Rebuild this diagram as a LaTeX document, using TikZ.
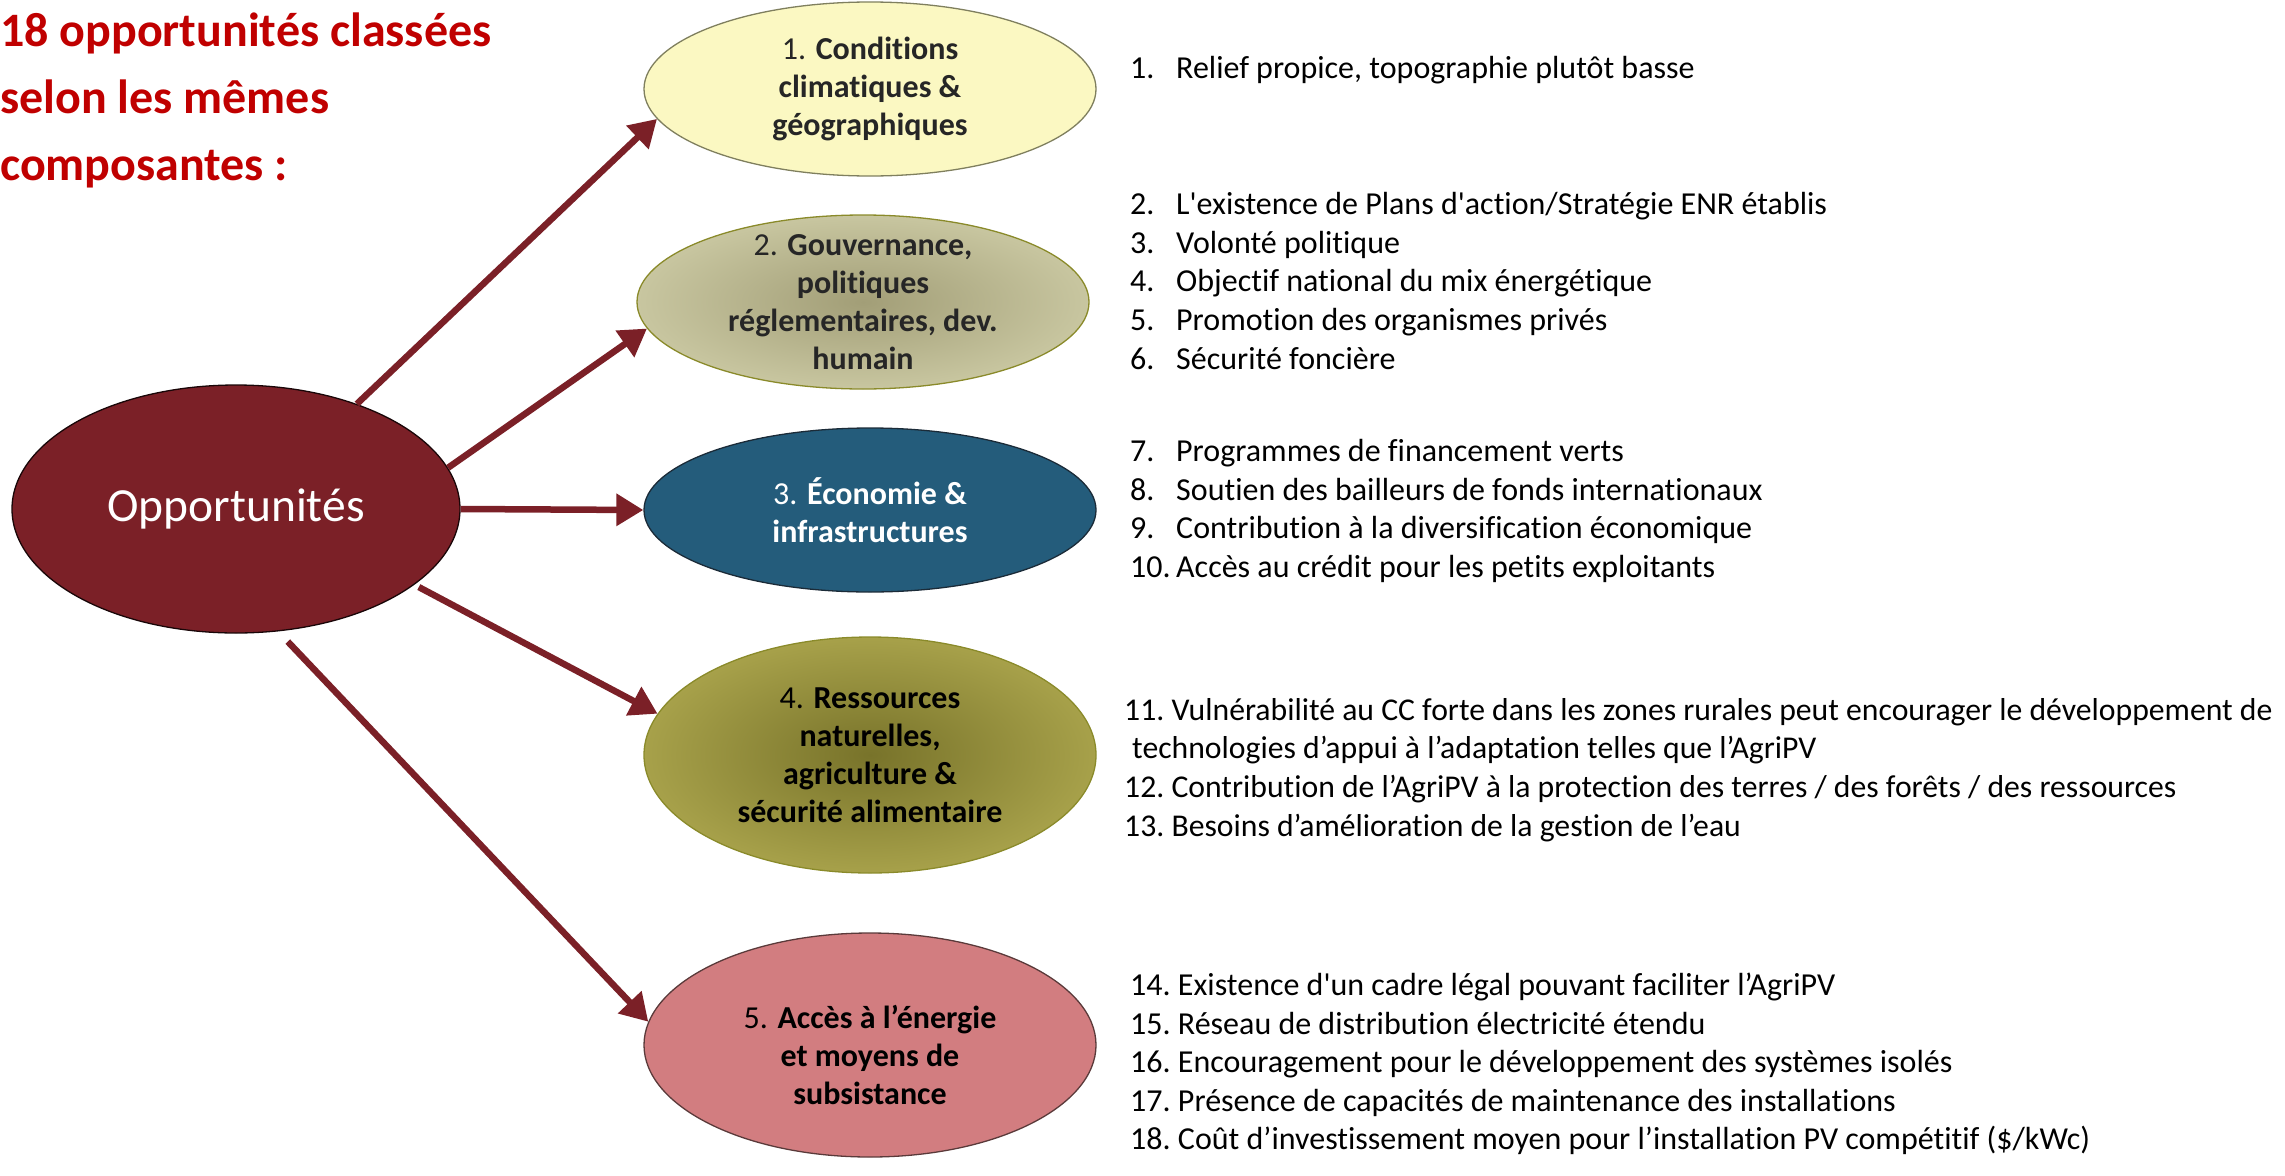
\documentclass[tikz,border=0pt]{standalone}
\usepackage{fontspec}
\setmainfont{Carlito}[Ligatures={TeXOff,CommonOff}]
\usetikzlibrary{shapes.geometric,arrows.meta}

\definecolor{oppred}{HTML}{7B2027}
\definecolor{titlered}{HTML}{C00000}
\definecolor{climfill}{HTML}{FBF8C2}
\definecolor{climdraw}{HTML}{7F7F5E}
\definecolor{govin}{HTML}{A29E77}
\definecolor{govout}{HTML}{C8C6A0}
\definecolor{olivedraw}{HTML}{8A8A2A}
\definecolor{ecofill}{HTML}{245C7B}
\definecolor{ecodraw}{HTML}{1B2B38}
\definecolor{resin}{HTML}{78732A}
\definecolor{resout}{HTML}{A7A14A}
\definecolor{nrjfill}{HTML}{D27D80}
\definecolor{nrjdraw}{HTML}{5A3A3A}
\definecolor{darktext}{HTML}{262626}

\newcommand\itemno[1]{\makebox[46pt][l]{#1}}

\tikzset{
  oval/.style={ellipse, draw, line width=1.3pt, inner sep=0pt, minimum width=452pt},
  ovaltxt/.style={align=center, font=\fontsize{32}{38}\selectfont},
  itemlist/.style={anchor=west, align=left, inner sep=0pt, font=\fontsize{32}{38.6}\selectfont},
  spoke/.style={->, line width=6.5pt, draw=oppred}
}

\begin{document}
\begin{tikzpicture}[x=1pt, y=-1pt, >={Triangle[length=27pt,width=31pt]}]
\useasboundingbox (0,0) rectangle (2285,1175);

% title
\node[anchor=west, align=left, inner sep=0pt, text=titlered,
      font=\fontsize{48}{67}\selectfont\bfseries] (title) at (0,100)
  {18 opportunités classées\\selon les mêmes\\composantes :};

% centre
\node[oval, fill=oppred, draw=black!80!oppred, minimum width=448pt, minimum height=248pt,
      text=white, font=\fontsize{47.5}{50}\selectfont] (opp) at (236,509) {Opportunités};

% the five components
\node[oval, fill=climfill, draw=climdraw, minimum height=174pt] (c1) at (870,89) {};
\node[ovaltxt, text=darktext] (c1t) at (c1)
  {1. \textbf{Conditions}\\\textbf{climatiques \&}\\\textbf{géographiques}};

\node[oval, shading=radial, inner color=govin, outer color=govout, draw=olivedraw,
      minimum height=174pt] (c2) at (863,302) {};
\node[ovaltxt, text=darktext] (c2t) at (c2)
  {2. \textbf{Gouvernance,}\\\textbf{politiques}\\\textbf{réglementaires, dev.}\\\textbf{humain}};

\node[oval, fill=ecofill, draw=ecodraw, minimum height=164pt] (c3) at (870,510) {};
\node[ovaltxt, text=white] (c3t) at (c3)
  {3. \textbf{Économie \&}\\\textbf{infrastructures}};

\node[oval, shading=radial, inner color=resin, outer color=resout, draw=olivedraw,
      minimum height=236pt] (c4) at (870,755) {};
\node[ovaltxt] (c4t) at (c4)
  {4. \textbf{Ressources}\\\textbf{naturelles,}\\\textbf{agriculture \&}\\\textbf{sécurité alimentaire}};

\node[oval, fill=nrjfill, draw=nrjdraw, minimum height=224pt] (c5) at (870,1045) {};
\node[ovaltxt] (c5t) at ([yshift=-10pt]c5.center)
  {5. \textbf{Accès à l’énergie}\\\textbf{et moyens de}\\\textbf{subsistance}};

% arrows
\draw[spoke] (opp.41) -- (c1.188);
\draw[spoke] (opp.11.5) -- (c2.187.5);
\draw[spoke] (opp.east) -- (c3.west);
\draw[spoke, shorten <=5pt] (opp.-23.5) -- (c4.169);
\draw[spoke, shorten <=14pt] (opp.-71.6) -- (c5.174);

% the 18 items
\node[itemlist] (l1) at (1130,70)
  {\itemno{1.}Relief propice, topographie plutôt basse};
\node[itemlist] (l2) at (1130,281)
  {\itemno{2.}L'existence de Plans d'action/Stratégie ENR établis\\
   \itemno{3.}Volonté politique\\
   \itemno{4.}Objectif national du mix énergétique\\
   \itemno{5.}Promotion des organismes privés\\
   \itemno{6.}Sécurité foncière};
\node[itemlist] (l3) at (1130,511)
  {\itemno{7.}Programmes de financement verts\\
   \itemno{8.}Soutien des bailleurs de fonds internationaux\\
   \itemno{9.}Contribution à la diversification économique\\
   \itemno{10.}Accès au crédit pour les petits exploitants};
\node[itemlist, font=\fontsize{31.7}{38.6}\selectfont] (l4) at (1124,770)
  {11.\ Vulnérabilité au CC forte dans les zones rurales peut encourager le développement de\\
   \hspace*{8pt}technologies d’appui à l’adaptation telles que l’AgriPV\\
   12.\ Contribution de l’AgriPV à la protection des terres / des forêts / des ressources\\
   13.\ Besoins d’amélioration de la gestion de l’eau};
\node[itemlist] (l5) at (1130,1064)
  {14.\ Existence d'un cadre légal pouvant faciliter l’AgriPV\\
   15.\ Réseau de distribution électricité étendu\\
   16.\ Encouragement pour le développement des systèmes isolés\\
   17.\ Présence de capacités de maintenance des installations\\
   18.\ Coût d’investissement moyen pour l’installation PV compétitif (\$/kWc)};
\end{tikzpicture}
\end{document}
